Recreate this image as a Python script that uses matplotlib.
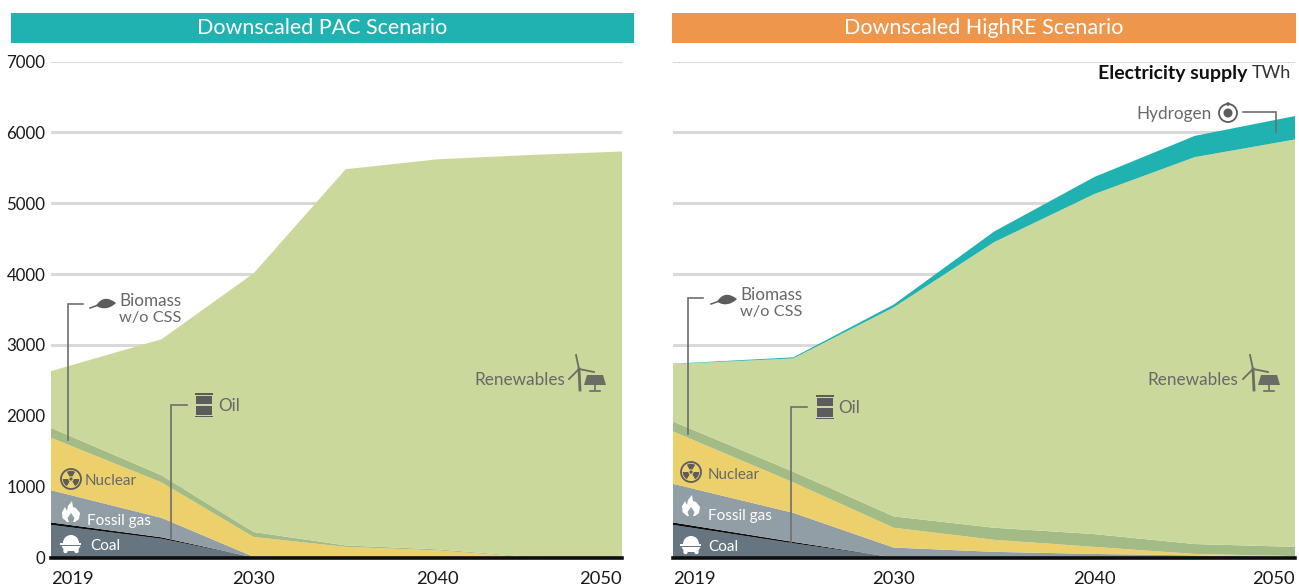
import numpy as np
import matplotlib
matplotlib.use("Agg")
import matplotlib.pyplot as plt
from matplotlib.patches import Rectangle, Circle, Wedge, Polygon, PathPatch
from matplotlib.path import Path

plt.rcParams['font.family'] = ['Lato', 'DejaVu Sans']

years = [2019, 2025, 2030, 2035, 2040, 2045, 2050]
y_ticks = [0, 1000, 2000, 3000, 4000, 5000, 6000, 7000]
x_ticks = [2019, 2030, 2040, 2050]

# PAC scenario (TWh)
pac_coal = [460, 265, 0, 0, 0, 0, 0]
pac_oil = [35, 20, 0, 0, 0, 0, 0]
pac_gas = [455, 275, 10, 0, 0, 0, 0]
pac_nuclear = [740, 500, 280, 150, 100, 0, 0]
pac_biomass = [140, 100, 70, 20, 15, 10, 0]
pac_renewables = [800, 1920, 3650, 5310, 5505, 5670, 5730]

# HighRE scenario (TWh)
hre_coal = [460, 200, 0, 0, 0, 0, 0]
hre_oil = [35, 20, 0, 0, 0, 0, 0]
hre_gas = [545, 410, 140, 80, 50, 30, 10]
hre_nuclear = [740, 430, 280, 170, 100, 20, 10]
hre_biomass = [140, 150, 160, 170, 180, 140, 130]
hre_renewables = [810, 1600, 2950, 4030, 4800, 5460, 5750]
hre_hydrogen = [5, 15, 40, 150, 240, 300, 330]

C_COAL, C_OIL, C_GAS = '#66757f', '#0d0d0d', '#929ea5'
C_NUC, C_BIO, C_REN, C_H2 = '#ecd06b', '#a3bb84', '#cbd89b', '#1fb2b0'
C_ORANGE = '#ed964c'
C_ICON = '#5c5c5c'
C_TXT = '#66686a'
C_GRID = '#d9d9d9'

W, H = 1299, 587
fig = plt.figure(figsize=(W / 100, H / 100), dpi=100, facecolor='white')


def axes_px(x0, x1, ytop, ybot):
    return fig.add_axes([x0 / W, 1 - ybot / H, (x1 - x0) / W, (ybot - ytop) / H])


def panel(ax, series, colors, show_y):
    ax.stackplot(years, *series, colors=colors, linewidth=0, zorder=3)
    ax.set_xlim(2019, 2050)
    ax.set_ylim(0, 7000)
    ax.set_yticks(y_ticks)
    ax.set_xticks([])
    ax.grid(axis='y', color=C_GRID, lw=2.2, zorder=1)
    ax.set_axisbelow(True)
    for s in ax.spines.values():
        s.set_visible(False)
    ax.tick_params(axis='y', length=0, pad=4, labelsize=12.2, labelcolor='#1a1a1a', labelleft=show_y)
    ax.patch.set_alpha(0)
    ax.axhline(0, color='#0d0d0d', lw=2.6, zorder=5, clip_on=False)
    for yr in x_ticks:
        ha = 'left' if yr == 2019 else ('right' if yr == 2050 else 'center')
        ax.annotate(str(yr), (yr, 0), xytext=(0, -21), textcoords='offset pixels',
                    ha=ha, va='center', fontsize=13.2, color='#1a1a1a', annotation_clip=False)


ax1 = axes_px(51, 622, 61.5, 557.5)
panel(ax1, [pac_coal, pac_oil, pac_gas, pac_nuclear, pac_biomass, pac_renewables],
      [C_COAL, C_OIL, C_GAS, C_NUC, C_BIO, C_REN], True)
ax2 = axes_px(673, 1295, 61.5, 557.5)
panel(ax2, [hre_coal, hre_oil, hre_gas, hre_nuclear, hre_biomass, hre_renewables, hre_hydrogen],
      [C_COAL, C_OIL, C_GAS, C_NUC, C_BIO, C_REN, C_H2], False)

# overlay in pixel coordinates for banners and annotation furniture
ov = fig.add_axes([0, 0, 1, 1], zorder=10)
ov.set_xlim(0, W)
ov.set_ylim(H, 0)
ov.axis('off')
ov.patch.set_alpha(0)

ov.add_patch(Rectangle((11, 13), 623, 30, color=C_H2, lw=0))
ov.add_patch(Rectangle((672, 13), 624, 30, color=C_ORANGE, lw=0))
ov.text(322, 28, 'Downscaled PAC Scenario', color='white', fontsize=15.5, ha='center', va='center')
ov.text(984, 28, 'Downscaled HighRE Scenario', color='white', fontsize=15.5, ha='center', va='center')

ov.text(1291, 73, 'TWh', color='#333333', fontsize=13, ha='right', va='center')
ov.text(1247, 73, 'Electricity supply', color='#111111', fontsize=14, fontweight='bold', ha='right', va='center')


def callout(xs, ys):
    ov.plot(xs, ys, color='#6e6e6e', lw=1.2, solid_joinstyle='miter', zorder=6)


callout([83, 68, 68], [304, 304, 440])
callout([187, 171, 171], [405, 405, 539])
callout([703, 688, 688], [298, 298, 434])
callout([807, 791, 791], [407, 407, 543])
callout([1243, 1276, 1276], [112, 112, 132])


def label(x, y, s, color=C_TXT, fs=12.3, ha='left'):
    ov.text(x, y + 1, s, color=color, fontsize=fs, ha=ha, va='center', zorder=7)


def leaf(tip_x, tip_y):
    x0, y0 = tip_x - 20, tip_y + 2.5
    verts = [(x0, y0), (x0 + 6, tip_y - 6), (tip_x - 8, tip_y - 6), (tip_x, tip_y),
             (tip_x - 6, tip_y + 6), (x0 + 6, tip_y + 7), (x0, y0), (x0, y0)]
    codes = [Path.MOVETO, Path.CURVE4, Path.CURVE4, Path.CURVE4, Path.CURVE4, Path.CURVE4, Path.CURVE4,
             Path.CLOSEPOLY]
    ov.add_patch(PathPatch(Path(verts, codes), fc=C_ICON, ec='none', lw=0))
    ov.plot([x0 - 6, x0 + 1], [y0 + 2.5, y0], color=C_ICON, lw=1.1)


def barrel(cx, cy):
    for dy in (-12, 10.5):
        ov.add_patch(Rectangle((cx - 9, cy + dy), 18, 1.6, color=C_ICON, lw=0))
    for dy in (-9.5, 1):
        ov.add_patch(Rectangle((cx - 8, cy + dy), 16, 8.5, color=C_ICON, lw=0))


def radiation(cx, cy, r=10):
    ov.add_patch(Circle((cx, cy), r, fc='none', ec=C_ICON, lw=1.3))
    for a in (30, 150, 270):
        ov.add_patch(Wedge((cx, cy), r - 1.8, a - 30, a + 30, width=r - 4.5, color=C_ICON, lw=0))
    ov.add_patch(Circle((cx, cy), 1.6, color=C_ICON, lw=0))


def flame(cx, cy):
    outer = [(-8.5, 6), (-9, 0), (-6, -5), (-4, -1), (-3, -6), (1, -11), (2, -5), (5, -4), (9, 1), (8, 7),
             (4, 10), (-4, 10)]
    ov.add_patch(Polygon([(cx + a, cy + b) for a, b in outer], closed=True, color='white', lw=0))
    inner = [(-2, 10), (-3.5, 6), (0, 1), (3.5, 6), (2, 10)]
    ov.add_patch(Polygon([(cx + a, cy + b) for a, b in inner], closed=True, color=C_GAS, lw=0))


def cart(cx, cy):
    ov.add_patch(Wedge((cx, cy - 1), 8, 180, 360, color='white', lw=0))
    ov.add_patch(Rectangle((cx - 10.5, cy - 1), 21, 2, color='white', lw=0))
    ov.add_patch(Polygon([(cx - 9.5, cy + 2), (cx + 9.5, cy + 2), (cx + 6.5, cy + 7), (cx - 6.5, cy + 7)],
                         closed=True, color='white', lw=0))
    for dx in (-5.5, 5.5):
        ov.add_patch(Circle((cx + dx, cy + 7), 2.2, color='white', lw=0))


def renewables_icon(cx, cy):
    hub = (cx - 8, cy - 8)
    ic = '#6a6d66'
    ov.plot([hub[0], hub[0] + 1], [hub[1], cy + 13], color=ic, lw=2)
    for dx, dy in ((-3, -14), (15, 3), (-10, 10)):
        ov.plot([hub[0], hub[0] + dx], [hub[1], hub[1] + dy], color=ic, lw=1.3)
    ov.add_patch(Polygon([(cx - 3, cy + 8), (cx, cy - 2), (cx + 16, cy - 2), (cx + 19, cy + 8)], closed=True,
                         color=ic, lw=0))
    ov.plot([cx + 8, cx + 8], [cy + 8, cy + 13], color=ic, lw=1.2)
    ov.plot([cx + 3, cx + 13], [cy + 13.5, cy + 13.5], color=ic, lw=1.2)


def hydrogen_icon(cx, cy):
    ov.add_patch(Circle((cx, cy), 9, fc='none', ec=C_ICON, lw=1.3))
    ov.add_patch(Circle((cx, cy), 4.5, color=C_ICON, lw=0))
    ov.add_patch(Circle((cx, cy - 9), 1.8, color=C_ICON, lw=0))


# left panel labels
leaf(116, 303)
label(119, 300, 'Biomass')
label(119, 317, 'w/o CSS', fs=11.8)
barrel(204, 405)
label(218, 405, 'Oil')
radiation(71, 479)
label(85, 480, 'Nuclear', fs=10.9)
flame(71, 512)
label(87, 520, 'Fossil gas', color='white', fs=11)
cart(71, 544)
label(90, 545, 'Coal', color='white', fs=11)
label(474, 379, 'Renewables')
renewables_icon(587, 377)

# right panel labels
leaf(737, 299)
label(740, 294, 'Biomass')
label(740, 311, 'w/o CSS', fs=11.8)
barrel(825, 407)
label(838, 407, 'Oil')
radiation(691, 472)
label(708, 474, 'Nuclear', fs=10.9)
flame(691, 506)
label(708, 515, 'Fossil gas', color='white', fs=11)
cart(691, 545)
label(708, 546, 'Coal', color='white', fs=11)
label(1147, 379, 'Renewables')
renewables_icon(1261, 377)
label(1212, 113, 'Hydrogen', ha='right')
hydrogen_icon(1228, 113)

fig.savefig('out.png', dpi=100, facecolor='white')
